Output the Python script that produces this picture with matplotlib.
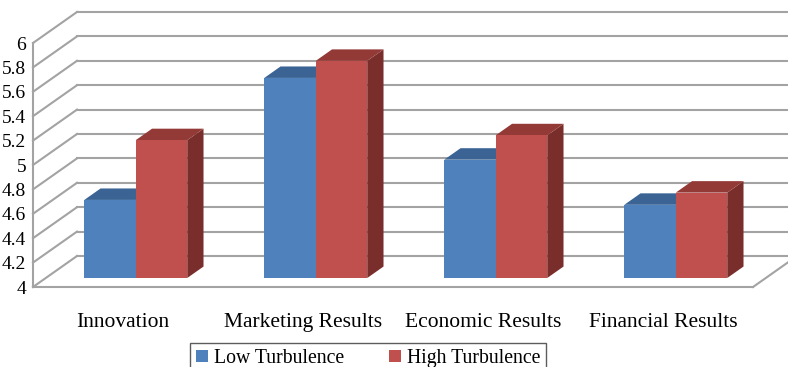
import matplotlib.pyplot as plt
from matplotlib.patches import Polygon, Patch

categories = ["Innovation", "Marketing Results", "Economic Results", "Financial Results"]
series = ["Low Turbulence", "High Turbulence"]
low = [4.64, 5.64, 4.97, 4.60]
high = [5.13, 5.78, 5.17, 4.70]
yticks = [4.0, 4.2, 4.4, 4.6, 4.8, 5.0, 5.2, 5.4, 5.6, 5.8, 6.0]

front_cols = ["#4f81bd", "#c0504d"]
top_cols = ["#3b6495", "#933a37"]
side_cols = ["#2f5078", "#7a2e2c"]
grid_col = "#a3a3a3"

plt.rcParams['font.family'] = ['Liberation Serif', 'DejaVu Serif']

# oblique depth: one unit of depth moves this far in data units
DX = 44 / 180
DY = 31 / 122
d0, d1 = 0.29, 0.66
bw = 0.286


def p(x, v, d):
    return (x + d * DX, v + d * DY)


fig = plt.figure(figsize=(7.88, 3.67), dpi=100)
ax = fig.add_axes([33 / 788, 80 / 367, 720 / 788, 244 / 367])
ax.set_xlim(0, 4)
ax.set_ylim(4, 6)
for s in ax.spines.values():
    s.set_visible(False)

# walls and floor
for v in yticks:
    ax.plot([0, DX], [v, v + DY], color=grid_col, lw=1.5, clip_on=False, zorder=1)
    ax.plot([DX, 4 + DX], [v + DY, v + DY], color=grid_col, lw=1.5, clip_on=False, zorder=1)
ax.plot([0, 0], [4, 6], color=grid_col, lw=1.5, clip_on=False, zorder=1)
ax.plot([0, 4], [4, 4], color=grid_col, lw=1.5, clip_on=False, zorder=1)
ax.plot([4, 4 + DX], [4, 4 + DY], color=grid_col, lw=1.5, clip_on=False, zorder=1)

# bars
for i in range(len(categories)):
    for j, vals in enumerate([low, high]):
        v = vals[i]
        x0 = i + (1 - 2 * bw) / 2 + j * bw
        x1 = x0 + bw
        side = [p(x1, 4, d0), p(x1, 4, d1), p(x1, v, d1), p(x1, v, d0)]
        top = [p(x0, v, d0), p(x1, v, d0), p(x1, v, d1), p(x0, v, d1)]
        front = [p(x0, 4, d0), p(x1, 4, d0), p(x1, v, d0), p(x0, v, d0)]
        z = 3 + 2 * i + j
        ax.add_patch(Polygon(side, closed=True, facecolor=side_cols[j], edgecolor='none', zorder=z, clip_on=False))
        ax.add_patch(Polygon(top, closed=True, facecolor=top_cols[j], edgecolor='none', zorder=z, clip_on=False))
        ax.add_patch(Polygon(front, closed=True, facecolor=front_cols[j], edgecolor='none', zorder=z, clip_on=False))

ax.set_yticks(yticks, labels=[f"{v:g}" for v in yticks])
ax.set_xticks([0.5, 1.5, 2.5, 3.5], categories)
ax.tick_params(axis='y', length=0, pad=5, labelsize=14)
ax.tick_params(axis='x', length=0, pad=19, labelsize=15.5)

handles = [Patch(facecolor=c) for c in front_cols]
leg = fig.legend(handles, series, loc='upper left', bbox_to_anchor=(190 / 788, 1 - 343 / 367),
                 ncol=2, frameon=True, fancybox=False, edgecolor='#333333', borderaxespad=0,
                 handlelength=0.6, handleheight=0.6, handletextpad=0.3, columnspacing=2.3,
                 borderpad=0.3, fontsize=14.2)
leg.get_frame().set_linewidth(1.0)

fig.savefig("out.png", dpi=100)
